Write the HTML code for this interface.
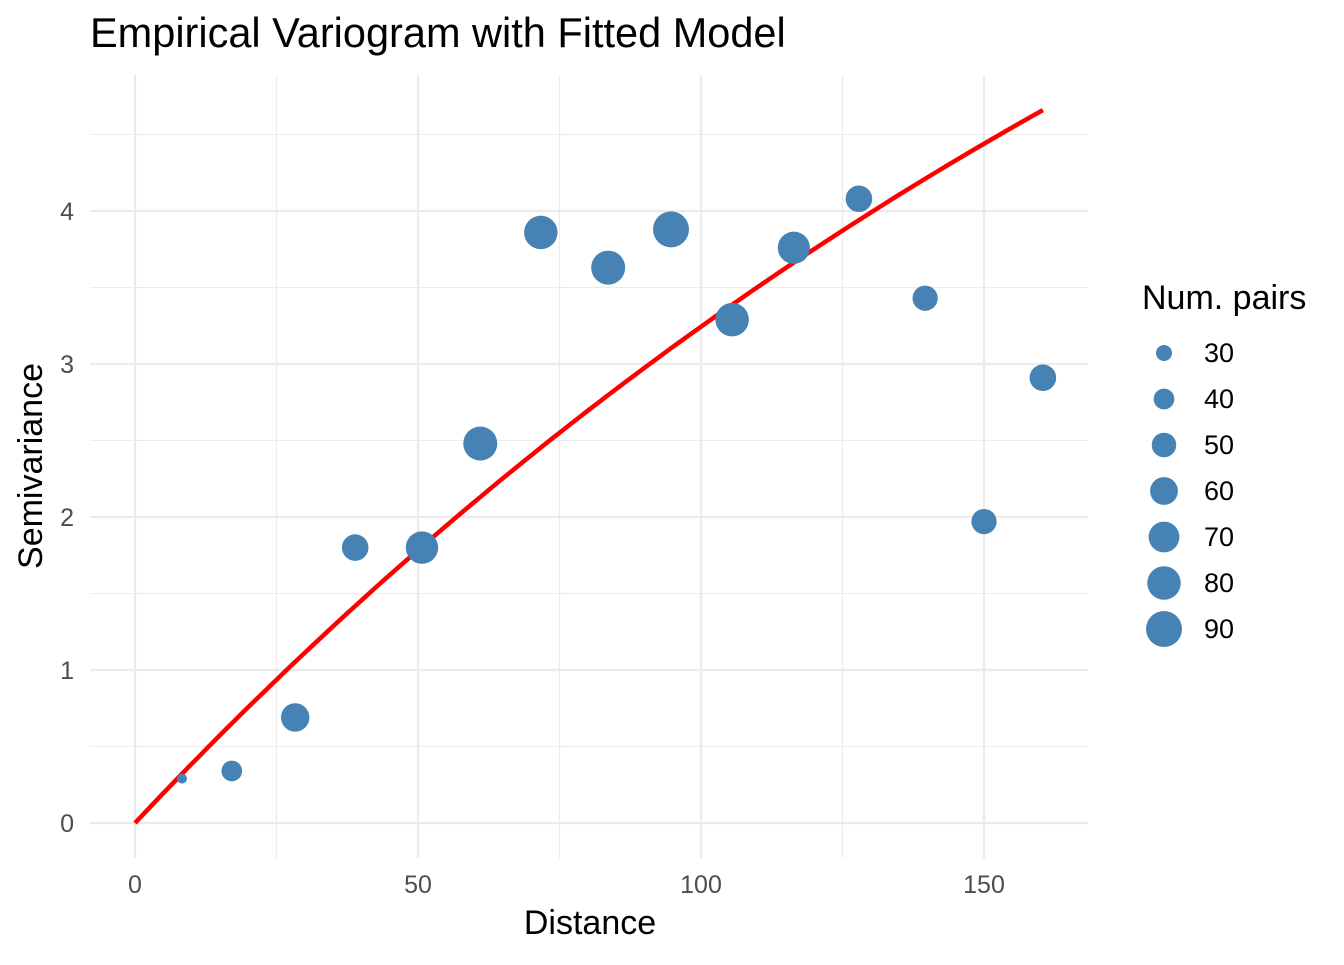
<!DOCTYPE html>
<html><head><meta charset="utf-8"><style>
body{margin:0;background:#fff;}
svg text{font-family:"Liberation Sans",sans-serif;}
</style></head><body>
<svg id="chart" width="1344" height="960">
<rect width="1344" height="960" fill="#fff"/>
<text x="90" y="47" font-size="41.5" fill="#000">Empirical Variogram with Fitted Model</text>
<g id="grid"></g>
<g id="xticks"></g>
<g id="yticks"></g>
<path id="curve" fill="none" stroke="#ff0000" stroke-width="4.5"/>
<g id="points"></g>
<text x="590" y="934" font-size="34" text-anchor="middle" fill="#000">Distance</text>
<text transform="translate(42,466) rotate(-90)" font-size="34" text-anchor="middle" fill="#000">Semivariance</text>
<text x="1142" y="309" font-size="34" fill="#000">Num. pairs</text>
<g id="legend"></g>
</svg>
<script>
const distances=[8.3,17.1,28.3,38.9,50.7,61,71.7,83.6,94.7,105.5,116.4,127.9,139.6,150,160.4];
const gammas=[0.29,0.34,0.69,1.80,1.80,2.48,3.86,3.63,3.88,3.29,3.76,4.08,3.43,1.97,2.91];
const npairs=[21,40,62,56,76,82,80,82,90,80,75,56,52,52,56];
const legendValues=[30,40,50,60,70,80,90];
const xTicks=[0,50,100,150];
const yTicks=[0,1,2,3,4];
const sill=9.84, range=250;
const NS="http://www.w3.org/2000/svg";
const X=v=>135+v*(984-135)/150;
const Y=v=>823-v*153;
const R=n=>Math.sqrt(Math.max(16,64+4.33*(n-30)));
function mk(tag,attrs,parent){const e=document.createElementNS(NS,tag);for(const k in attrs)e.setAttribute(k,attrs[k]);parent.appendChild(e);return e;}
const grid=document.getElementById('grid');
for(let v=0;v<=175;v+=25){if(X(v)>1088)break;
 const l=mk('line',{x1:X(v),x2:X(v),y1:75,y2:858,stroke:'#ebebeb','stroke-width':v%50===0?2.2:1.1},grid);
 
 }
for(let v=0;v<=4.5;v+=0.5){
 const l=mk('line',{x1:90,x2:1088,y1:Y(v),y2:Y(v),stroke:'#ebebeb','stroke-width':v%1===0?2.2:1.1},grid);
 
 }
const xt=document.getElementById('xticks');
xTicks.forEach(v=>{const t=mk('text',{x:X(v),y:893,'font-size':25,'text-anchor':'middle',fill:'#4d4d4d'},xt);t.textContent=v;
 
 });
const yt=document.getElementById('yticks');
yTicks.forEach(v=>{const t=mk('text',{x:74,y:Y(v)+9,'font-size':25,'text-anchor':'end',fill:'#4d4d4d'},yt);t.textContent=v;
 
 });
let d='';const hmax=distances[distances.length-1];
for(let i=0;i<=100;i++){const h=hmax*i/100;const g=sill*(1-Math.exp(-h/range));d+=(i?'L':'M')+X(h).toFixed(1)+','+Y(g).toFixed(1);}
document.getElementById('curve').setAttribute('d',d);
const pts=document.getElementById('points');
distances.forEach((h,i)=>{const c=mk('circle',{cx:X(h),cy:Y(gammas[i]),r:R(npairs[i]),fill:'#4682b4'},pts);
 
 });
const lg=document.getElementById('legend');
legendValues.forEach((n,i)=>{const cy=353+i*46;
 const c=mk('circle',{cx:1164,cy:cy,r:R(n),fill:'#4682b4'},lg);
 
 
 const t=mk('text',{x:1204,y:cy+9,'font-size':27,fill:'#000'},lg);t.textContent=n;
 
 });
</script>
</body></html>
